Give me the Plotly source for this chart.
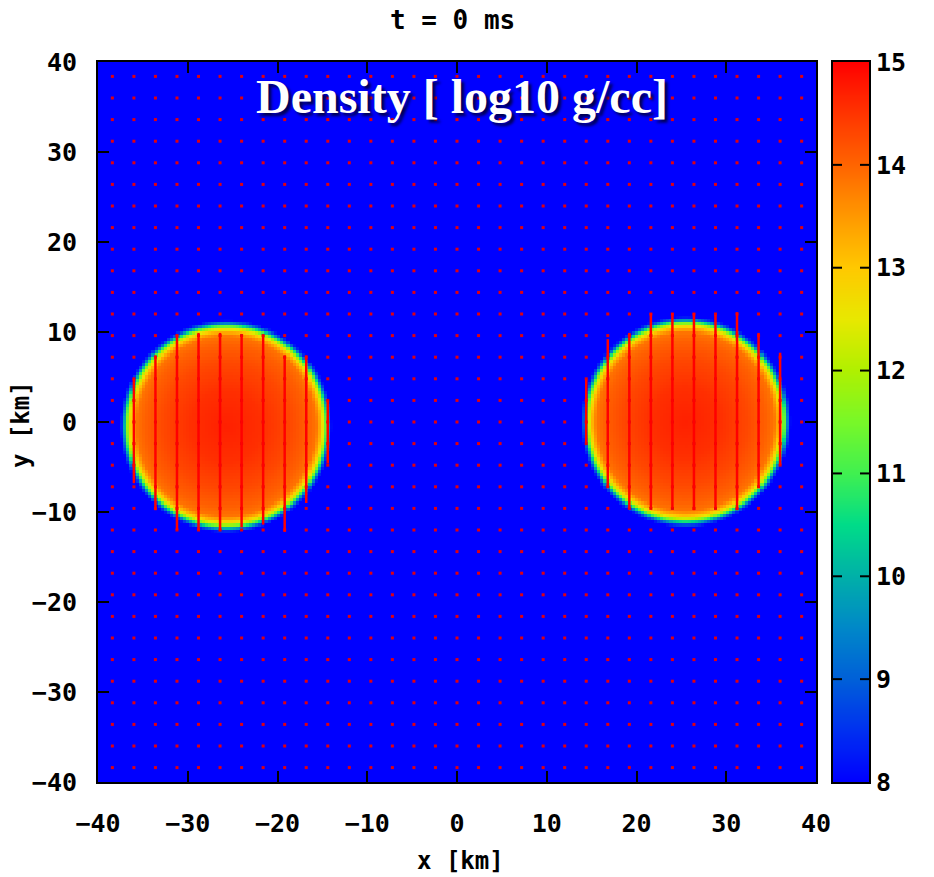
import numpy as np
import plotly.graph_objects as go

# ---------------- data ----------------
# density field: two stars (centre x, centre y, outer radius in km)
star_cx = [-25.7, 25.5]
star_cy = [-0.5, 0.0]
star_radius = [11.5, 11.4]
# radial profile, distance measured inward from the outer radius (km) -> log10 rho
profile_depth = [-0.3, 0.0, 0.3, 0.6, 1.0, 1.5, 2.5, 4.5, 7.5, 11.5]
profile_logrho = [8.0, 9.0, 10.8, 12.2, 13.2, 13.85, 14.05, 14.3, 14.55, 14.7]
rho_floor = 8.0

# tracer particle lattice (km)
tracer_pos = [-38.4, -36.0, -33.6, -31.2, -28.8, -26.4, -24.0, -21.6, -19.2, -16.8,
              -14.4, -12.0, -9.6, -7.2, -4.8, -2.4, 0.0, 2.4, 4.8, 7.2, 9.6, 12.0,
              14.4, 16.8, 19.2, 21.6, 24.0, 26.4, 28.8, 31.2, 33.6, 36.0, 38.4]

# tracer columns inside stars: x, y_top, y_bottom (km)
col_x = [-36.0, -33.6, -31.2, -28.8, -26.4, -24.0, -21.6, -19.2, -16.8, -14.4,
         14.4, 16.8, 19.2, 21.6, 24.0, 26.4, 28.8, 31.2, 33.6, 36.0]
col_top = [4.8, 7.4, 9.7, 9.9, 9.9, 9.7, 9.7, 7.4, 7.4, 2.4,
           4.7, 9.2, 9.9, 12.1, 12.1, 12.1, 11.9, 12.2, 9.9, 7.7]
col_bot = [-6.8, -9.8, -12.0, -12.0, -12.0, -11.7, -11.4, -12.2, -9.0, -4.6,
           -2.3, -7.3, -9.6, -9.6, -9.6, -9.8, -9.6, -9.8, -7.3, -4.8]

cbar_ticks = [8, 9, 10, 11, 12, 13, 14, 15]
axis_ticks = [-40, -30, -20, -10, 0, 10, 20, 30, 40]
z_min, z_max = 8, 15

# ---------------- build field ----------------
cell = 0.35
grid = np.arange(-40 + cell / 2, 40, cell)
X, Y = np.meshgrid(grid, grid)
Z = np.full_like(X, rho_floor)
for cx, cy, R in zip(star_cx, star_cy, star_radius):
    depth = R - np.hypot(X - cx, Y - cy)
    val = np.interp(depth, profile_depth, profile_logrho, left=rho_floor)
    Z = np.maximum(Z, val)

colorscale = [
    [0.0, "#0000ff"], [0.0714, "#0030f0"], [0.1429, "#0060d8"], [0.2143, "#0088c8"],
    [0.2857, "#00b0a8"], [0.357, "#00dc88"], [0.4286, "#40f050"], [0.5, "#78f828"],
    [0.5714, "#b0f000"], [0.643, "#e8e800"], [0.714, "#ffc800"], [0.786, "#ff9800"],
    [0.857, "#ff6400"], [0.929, "#ff3400"], [1.0, "#ff0000"],
]

# layout geometry (px)
L, R_EDGE, T, B = 98, 869, 62, 782
PAPER_W = R_EDGE - L
main_dom = [0, (816 - L) / PAPER_W]
cb_dom = [(833 - L) / PAPER_W, 1.0]

MONO = "DejaVu Sans Mono"
fig = go.Figure()
fig.add_trace(go.Heatmap(
    x=grid, y=grid, z=Z, zmin=z_min, zmax=z_max, colorscale=colorscale,
    showscale=False, hoverinfo="skip", xaxis="x", yaxis="y",
))

# tracer lattice dots
dx, dy = np.meshgrid(tracer_pos, tracer_pos)
fig.add_trace(go.Scatter(
    x=dx.ravel(), y=dy.ravel(), mode="markers",
    marker=dict(symbol="square", size=3, color="#e00010", line=dict(width=0)),
    hoverinfo="skip", showlegend=False, xaxis="x", yaxis="y",
))

# tracer columns
lx, ly = [], []
for x, t, b in zip(col_x, col_top, col_bot):
    lx += [x, x, None]
    ly += [t, b, None]
fig.add_trace(go.Scatter(
    x=lx, y=ly, mode="lines", line=dict(color="#ff0000", width=2.5),
    hoverinfo="skip", showlegend=False, xaxis="x", yaxis="y",
))

# colour bar drawn as its own heatmap on a second axis pair
cb_levels = np.linspace(z_min, z_max, 701)
fig.add_trace(go.Heatmap(
    x=[0], y=cb_levels, z=cb_levels.reshape(-1, 1), zmin=z_min, zmax=z_max,
    colorscale=colorscale, showscale=False, hoverinfo="skip", xaxis="x2", yaxis="y2",
))

tickfont = dict(family=MONO, size=25, color="black", weight="bold")
axis_common = dict(
    range=[-40, 40], tickvals=axis_ticks, ticks="inside", ticklen=11, tickwidth=2,
    tickcolor="black", showline=True, linecolor="black", linewidth=2, mirror="ticks",
    showgrid=False, zeroline=False, tickfont=tickfont,
)
fig.update_layout(
    xaxis=dict(**axis_common, domain=main_dom, anchor="y", ticklabelstandoff=18),
    yaxis=dict(**axis_common, domain=[0, 1], anchor="x", ticklabelstandoff=14),
    xaxis2=dict(domain=cb_dom, anchor="y2", range=[-0.5, 0.5], showticklabels=False,
                ticks="", showline=True, linecolor="black", linewidth=2, mirror=True,
                showgrid=False, zeroline=False, fixedrange=True),
    yaxis2=dict(domain=[0, 1], anchor="x2", side="right", range=[z_min, z_max],
                tickvals=cbar_ticks, ticks="", showline=True, linecolor="black",
                linewidth=2, mirror=True, showgrid=False, zeroline=False,
                tickfont=tickfont, ticklabelstandoff=0, fixedrange=True),
)

# colour bar ticks on both inner sides (gnuplot style), in the bar's own axis units
for v in cbar_ticks[1:-1]:
    for x0, x1 in ((-0.5, -0.25), (0.25, 0.5)):
        fig.add_shape(type="line", xref="x2", yref="y2", x0=x0, x1=x1, y0=v, y1=v,
                      line=dict(color="black", width=2), layer="above")

fig.add_annotation(text="t = 0 ms", x=(452 - L) / PAPER_W, y=(B - 20) / (B - T),
                   xref="paper", yref="paper", showarrow=False,
                   xanchor="center", yanchor="middle",
                   font=dict(family=MONO, size=26, color="black", weight="bold"))
fig.add_annotation(text="x [km]", x=(460 - L) / PAPER_W, y=(B - 861) / (B - T),
                   xref="paper", yref="paper", showarrow=False,
                   xanchor="center", yanchor="middle",
                   font=dict(family=MONO, size=24, color="black", weight="bold"))
fig.add_annotation(text="y [km]", x=(21 - L) / PAPER_W, y=(B - 425) / (B - T),
                   xref="paper", yref="paper", showarrow=False,
                   xanchor="center", yanchor="middle", textangle=-90,
                   font=dict(family=MONO, size=24, color="black", weight="bold"))
fig.add_annotation(text="Density [ log10 g/cc]", x=(462 - L) / PAPER_W, y=(B - 96) / (B - T),
                   xref="paper", yref="paper", showarrow=False,
                   xanchor="center", yanchor="middle",
                   font=dict(family="Liberation Serif", size=48, color="white", weight="bold",
                             shadow="3px 3px 3px rgba(0,0,60,0.9)"))

fig.update_layout(
    width=934, height=877,
    margin=dict(l=L, r=934 - R_EDGE, t=T, b=877 - B, autoexpand=False),
    paper_bgcolor="white", plot_bgcolor="#0000ff", showlegend=False,
)
fig.write_html("out.html")
